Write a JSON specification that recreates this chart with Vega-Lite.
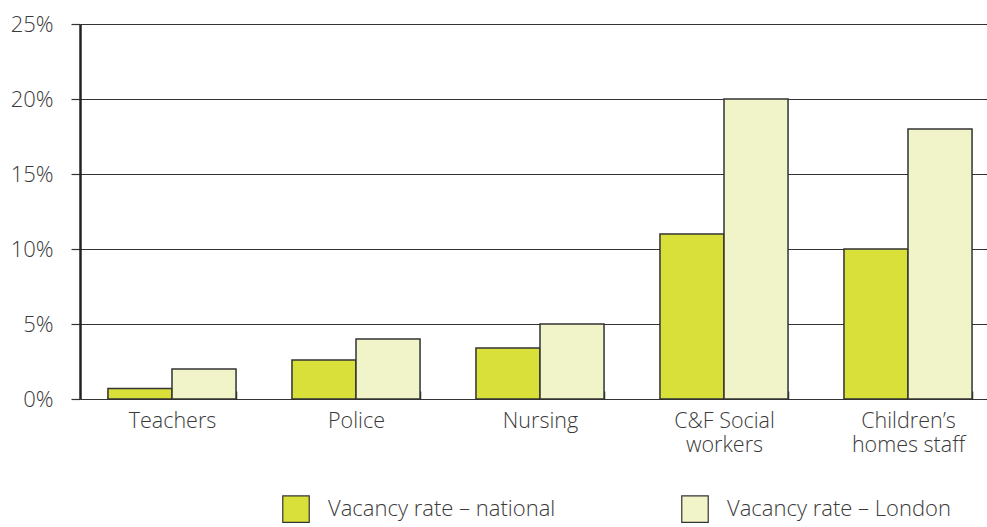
{
  "$schema": "https://vega.github.io/schema/vega-lite/v6.json",
  "autosize": "none",
  "width": 920,
  "height": 375,
  "padding": {"left": 80, "top": 24, "right": 0, "bottom": 128},
  "background": "white",
  "config": {
    "view": {"stroke": null},
    "font": "Open Sans",
    "axis": {"labelFont": "Open Sans", "labelColor": "#3a3a3a", "labelFontWeight": 300}
  },
  "data": {
    "values": [
      {"group": "Teachers", "series": "Vacancy rate – national", "rate": 0.7},
      {"group": "Teachers", "series": "Vacancy rate – London", "rate": 2.0},
      {"group": "Police", "series": "Vacancy rate – national", "rate": 2.6},
      {"group": "Police", "series": "Vacancy rate – London", "rate": 4.0},
      {"group": "Nursing", "series": "Vacancy rate – national", "rate": 3.4},
      {"group": "Nursing", "series": "Vacancy rate – London", "rate": 5.0},
      {"group": "C&F Social workers", "series": "Vacancy rate – national", "rate": 11.0},
      {"group": "C&F Social workers", "series": "Vacancy rate – London", "rate": 20.0},
      {"group": "Children’s homes staff", "series": "Vacancy rate – national", "rate": 10.0},
      {"group": "Children’s homes staff", "series": "Vacancy rate – London", "rate": 18.0}
    ]
  },
  "mark": {"type": "bar", "stroke": "#333333", "strokeWidth": 1.5},
  "encoding": {
    "x": {
      "field": "group",
      "type": "nominal",
      "sort": null,
      "title": null,
      "scale": {"paddingInner": 0.304, "paddingOuter": 0.152},
      "axis": {
        "labelAngle": 0,
        "labelFontSize": 21.5,
        "labelPadding": 11,
        "offset": -8,
        "ticks": true,
        "tickBand": "extent",
        "tickSize": 8,
        "tickColor": "#333333",
        "tickWidth": 1.5,
        "domain": false,
        "labelExpr": "datum.value == 'C&F Social workers' ? ['C&F Social', 'workers'] : datum.value == 'Children’s homes staff' ? ['Children’s', 'homes staff'] : datum.value",
        "labelLineHeight": 24,
        "labelBaseline": "top"
      }
    },
    "xOffset": {"field": "series", "type": "nominal", "sort": ["Vacancy rate – national", "Vacancy rate – London"], "scale": {"paddingInner": 0, "paddingOuter": 0}},
    "y": {
      "field": "rate",
      "type": "quantitative",
      "title": null,
      "scale": {"domain": [0, 25], "nice": false},
      "axis": {
        "values": [0, 5, 10, 15, 20, 25],
        "labelExpr": "datum.value + '%'",
        "labelFontSize": 22,
        "labelPadding": 18,
        "tickSize": 9,
        "tickColor": "#333333",
        "tickWidth": 1.2,
        "grid": true,
        "gridColor": "#333333",
        "gridWidth": 1.2,
        "domainColor": "#222222",
        "domainWidth": 2.5
      }
    },
    "fill": {
      "field": "series",
      "type": "nominal",
      "sort": ["Vacancy rate – national", "Vacancy rate – London"],
      "scale": {"domain": ["Vacancy rate – national", "Vacancy rate – London"], "range": ["#d9e03a", "#f1f4c8"]},
      "legend": {
        "title": null,
        "orient": "none",
        "legendX": 202,
        "legendY": 471,
        "direction": "horizontal",
        "columns": 2,
        "columnPadding": 123,
        "symbolType": "square",
        "symbolSize": 700,
        "symbolStrokeColor": "#333333",
        "symbolStrokeWidth": 1.2,
        "symbolOffset": 0,
        "labelFontSize": 22,
        "labelColor": "#3a3a3a",
        "labelFontWeight": 300,
        "labelOffset": 18,
        "labelLimit": 400
      }
    }
  }
}
